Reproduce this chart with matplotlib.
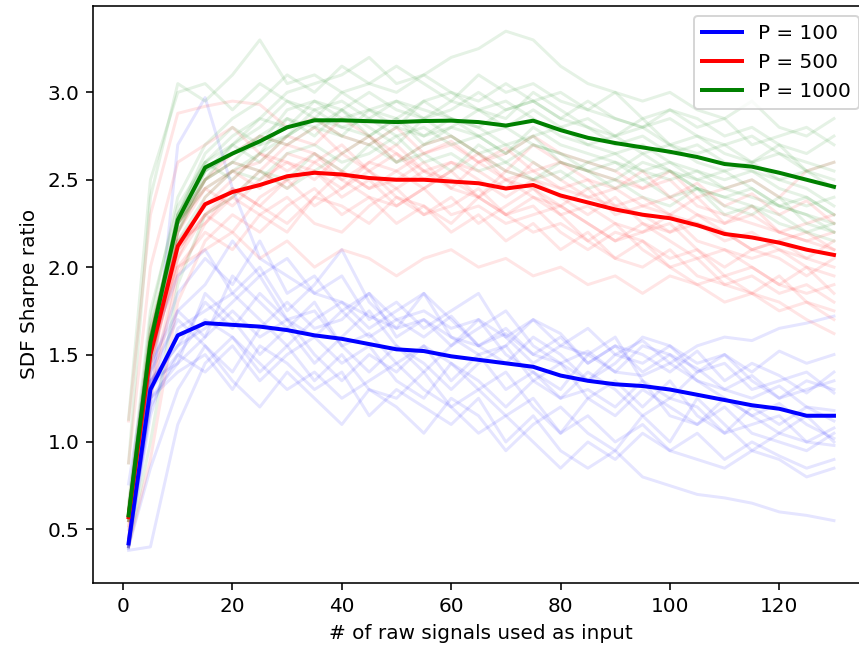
import numpy as np
import matplotlib
matplotlib.use("Agg")
import matplotlib.pyplot as plt

# number of raw signals used as input
n_signals = [1, 5, 10, 15, 20, 25, 30, 35, 40, 45, 50, 55, 60, 65, 70, 75,
             80, 85, 90, 95, 100, 105, 110, 115, 120, 125, 130]

# mean SDF Sharpe ratio for each P
mean_p100 = [0.42, 1.30, 1.61, 1.68, 1.67, 1.66, 1.64, 1.61, 1.59, 1.56, 1.53, 1.52, 1.49, 1.47,
             1.45, 1.43, 1.38, 1.35, 1.33, 1.32, 1.30, 1.27, 1.24, 1.21, 1.19, 1.15, 1.15]
mean_p500 = [0.57, 1.50, 2.12, 2.36, 2.43, 2.47, 2.52, 2.54, 2.53, 2.51, 2.50, 2.50, 2.49, 2.48,
             2.45, 2.47, 2.41, 2.37, 2.33, 2.30, 2.28, 2.24, 2.19, 2.17, 2.14, 2.10, 2.07]
mean_p1000 = [0.58, 1.57, 2.27, 2.57, 2.65, 2.72, 2.80, 2.84, 2.84, 2.835, 2.83, 2.836, 2.838, 2.83,
              2.81, 2.838, 2.784, 2.74, 2.71, 2.685, 2.66, 2.63, 2.59, 2.575, 2.54, 2.50, 2.46]

# individual runs (faint lines)
runs_p100 = [
    [0.40, 1.20, 2.70, 2.97, 2.45, 2.05, 1.95, 1.85, 1.80, 1.72, 1.65, 1.70, 1.60, 1.55, 1.62, 1.50, 1.45, 1.52, 1.40, 1.38, 1.45, 1.35, 1.30, 1.25, 1.32, 1.20, 1.18],
    [0.45, 1.45, 1.75, 1.90, 2.15, 1.95, 2.05, 1.85, 1.95, 1.70, 1.80, 1.65, 1.75, 1.85, 1.60, 1.70, 1.55, 1.65, 1.50, 1.58, 1.45, 1.55, 1.60, 1.58, 1.65, 1.68, 1.72],
    [0.38, 0.40, 1.10, 1.45, 1.60, 1.40, 1.55, 1.35, 1.50, 1.30, 1.25, 1.40, 1.20, 1.30, 1.15, 1.25, 1.05, 1.15, 1.00, 1.10, 0.95, 1.05, 0.90, 1.00, 0.92, 0.85, 0.90],
    [0.42, 1.35, 1.55, 1.80, 1.65, 1.85, 1.70, 1.75, 1.55, 1.62, 1.45, 1.55, 1.35, 1.50, 1.30, 1.40, 1.25, 1.30, 1.20, 1.35, 1.15, 1.10, 1.20, 1.05, 1.00, 0.95, 1.05],
    [0.40, 1.25, 1.40, 1.50, 1.30, 1.55, 1.45, 1.30, 1.40, 1.15, 1.30, 1.20, 1.10, 1.25, 1.00, 1.15, 0.95, 0.85, 0.95, 0.80, 0.75, 0.70, 0.68, 0.65, 0.60, 0.58, 0.55],
    [0.41, 1.40, 1.85, 2.05, 1.90, 2.15, 1.85, 1.95, 1.75, 1.85, 1.70, 1.60, 1.72, 1.55, 1.65, 1.50, 1.60, 1.45, 1.55, 1.40, 1.50, 1.42, 1.30, 1.38, 1.25, 1.30, 1.35],
    [0.43, 1.30, 1.50, 1.40, 1.55, 1.35, 1.50, 1.60, 1.45, 1.55, 1.35, 1.25, 1.45, 1.30, 1.40, 1.20, 1.05, 1.25, 1.15, 1.30, 1.20, 1.10, 1.25, 1.15, 1.05, 1.00, 0.98],
    [0.39, 1.15, 1.65, 1.75, 1.85, 1.70, 1.55, 1.70, 1.80, 1.65, 1.75, 1.85, 1.60, 1.50, 1.55, 1.70, 1.62, 1.45, 1.55, 1.50, 1.40, 1.52, 1.35, 1.45, 1.38, 1.28, 1.40],
    [0.44, 1.35, 1.45, 1.60, 1.75, 1.60, 1.70, 1.50, 1.35, 1.50, 1.40, 1.55, 1.45, 1.35, 1.20, 1.35, 1.25, 1.40, 1.30, 1.15, 1.25, 1.20, 1.05, 1.10, 1.15, 1.00, 1.08],
    [0.40, 1.40, 1.70, 1.55, 1.40, 1.65, 1.80, 1.65, 1.70, 1.85, 1.60, 1.70, 1.55, 1.65, 1.75, 1.55, 1.45, 1.35, 1.50, 1.45, 1.55, 1.40, 1.45, 1.30, 1.35, 1.40, 1.28],
    [0.42, 1.20, 1.50, 1.70, 1.60, 1.45, 1.30, 1.40, 1.25, 1.35, 1.45, 1.30, 1.20, 1.05, 1.15, 1.00, 0.85, 1.00, 0.90, 1.05, 0.95, 0.90, 0.85, 0.95, 0.90, 0.80, 0.85],
    [0.40, 1.35, 1.55, 1.65, 1.80, 1.95, 1.70, 1.60, 1.75, 1.60, 1.70, 1.75, 1.65, 1.70, 1.60, 1.45, 1.55, 1.50, 1.40, 1.55, 1.50, 1.35, 1.25, 1.15, 1.22, 1.10, 1.02],
    [0.76, 1.55, 1.95, 2.10, 1.85, 2.00, 1.75, 1.90, 2.10, 1.80, 1.65, 1.85, 1.70, 1.55, 1.45, 1.60, 1.50, 1.35, 1.45, 1.60, 1.55, 1.45, 1.50, 1.40, 1.52, 1.45, 1.50],
    [0.40, 0.85, 1.30, 1.55, 1.35, 1.20, 1.40, 1.25, 1.10, 1.30, 1.20, 1.05, 1.25, 1.15, 0.95, 1.10, 1.20, 1.05, 0.95, 1.15, 1.00, 1.25, 1.10, 0.95, 1.05, 1.15, 1.00],
    [0.42, 1.30, 1.75, 1.60, 1.95, 1.80, 1.65, 1.45, 1.60, 1.75, 1.55, 1.40, 1.55, 1.70, 1.50, 1.40, 1.30, 1.50, 1.60, 1.35, 1.25, 1.40, 1.50, 1.35, 1.25, 1.35, 1.30],
    [0.41, 1.25, 1.45, 1.85, 1.70, 1.50, 1.65, 1.80, 1.55, 1.40, 1.55, 1.45, 1.30, 1.45, 1.55, 1.35, 1.45, 1.25, 1.35, 1.20, 1.35, 1.15, 1.05, 1.20, 1.10, 1.20, 1.12],
]
runs_p500 = [
    [1.12, 2.30, 2.88, 2.92, 2.95, 2.93, 2.80, 2.85, 2.75, 2.70, 2.80, 2.65, 2.72, 2.60, 2.68, 2.55, 2.60, 2.50, 2.45, 2.55, 2.40, 2.48, 2.35, 2.42, 2.30, 2.38, 2.25],
    [0.40, 0.90, 1.80, 2.15, 2.30, 2.20, 2.35, 2.45, 2.30, 2.40, 2.25, 2.35, 2.20, 2.30, 2.15, 2.25, 2.10, 2.20, 2.05, 2.00, 2.10, 1.95, 1.90, 1.85, 1.95, 1.80, 1.75],
    [0.55, 1.45, 2.05, 2.40, 2.55, 2.45, 2.65, 2.60, 2.70, 2.55, 2.65, 2.50, 2.60, 2.55, 2.45, 2.60, 2.50, 2.40, 2.45, 2.35, 2.30, 2.40, 2.25, 2.30, 2.20, 2.15, 2.10],
    [0.45, 1.30, 2.00, 2.20, 2.10, 2.30, 2.20, 2.40, 2.35, 2.25, 2.40, 2.30, 2.35, 2.45, 2.30, 2.20, 2.25, 2.15, 2.05, 2.15, 2.00, 1.90, 1.95, 1.85, 1.80, 1.70, 1.62],
    [0.60, 1.60, 2.25, 2.50, 2.65, 2.75, 2.70, 2.80, 2.65, 2.75, 2.60, 2.70, 2.75, 2.65, 2.55, 2.70, 2.60, 2.55, 2.50, 2.45, 2.55, 2.40, 2.45, 2.50, 2.40, 2.55, 2.60],
    [0.50, 1.40, 2.10, 2.30, 2.20, 2.40, 2.50, 2.35, 2.45, 2.55, 2.40, 2.35, 2.25, 2.40, 2.30, 2.35, 2.20, 2.10, 2.20, 2.15, 2.05, 2.10, 1.95, 2.00, 1.90, 1.85, 1.90],
    [0.58, 1.55, 2.15, 2.25, 2.45, 2.35, 2.25, 2.40, 2.55, 2.45, 2.50, 2.60, 2.45, 2.40, 2.50, 2.40, 2.30, 2.35, 2.25, 2.20, 2.30, 2.15, 2.10, 2.05, 2.10, 2.00, 1.95],
    [0.62, 1.65, 2.20, 2.45, 2.35, 2.50, 2.60, 2.55, 2.45, 2.60, 2.55, 2.45, 2.55, 2.65, 2.50, 2.55, 2.45, 2.50, 2.35, 2.40, 2.30, 2.25, 2.20, 2.10, 2.15, 2.05, 2.00],
    [0.52, 1.50, 2.00, 2.10, 2.20, 2.05, 2.15, 2.00, 2.10, 2.05, 1.95, 2.05, 2.10, 2.00, 2.05, 1.95, 2.00, 1.90, 1.95, 1.85, 1.95, 1.90, 1.80, 1.85, 1.75, 1.80, 1.70],
    [0.57, 1.55, 2.20, 2.50, 2.60, 2.55, 2.70, 2.65, 2.55, 2.45, 2.55, 2.65, 2.70, 2.60, 2.65, 2.75, 2.65, 2.60, 2.55, 2.45, 2.50, 2.35, 2.30, 2.25, 2.20, 2.15, 2.20],
    [0.55, 1.45, 2.05, 2.30, 2.40, 2.55, 2.45, 2.60, 2.50, 2.40, 2.35, 2.45, 2.30, 2.35, 2.25, 2.30, 2.35, 2.25, 2.15, 2.20, 2.25, 2.10, 2.00, 2.10, 2.05, 1.95, 2.05],
    [0.58, 1.60, 2.25, 2.45, 2.55, 2.60, 2.75, 2.70, 2.85, 2.75, 2.65, 2.55, 2.60, 2.50, 2.40, 2.50, 2.45, 2.40, 2.35, 2.30, 2.20, 2.25, 2.15, 2.20, 2.10, 2.05, 2.15],
    [0.88, 2.00, 2.60, 2.70, 2.80, 2.65, 2.55, 2.65, 2.50, 2.60, 2.70, 2.55, 2.45, 2.60, 2.50, 2.45, 2.35, 2.45, 2.30, 2.35, 2.40, 2.30, 2.25, 2.35, 2.20, 2.25, 2.30],
    [0.45, 1.25, 1.95, 2.25, 2.40, 2.30, 2.40, 2.25, 2.20, 2.35, 2.45, 2.30, 2.40, 2.25, 2.35, 2.45, 2.30, 2.15, 2.25, 2.10, 2.00, 2.05, 1.90, 1.95, 1.85, 1.90, 1.80],
    [0.55, 1.50, 2.15, 2.35, 2.50, 2.65, 2.60, 2.50, 2.65, 2.55, 2.45, 2.55, 2.50, 2.40, 2.55, 2.50, 2.40, 2.30, 2.40, 2.25, 2.20, 2.30, 2.20, 2.10, 2.15, 2.20, 2.10],
    [0.60, 1.55, 2.10, 2.30, 2.45, 2.35, 2.50, 2.55, 2.40, 2.50, 2.35, 2.45, 2.55, 2.40, 2.30, 2.40, 2.35, 2.25, 2.15, 2.25, 2.15, 2.05, 2.10, 2.00, 1.90, 2.00, 1.85],
]
runs_p1000 = [
    [0.88, 2.40, 3.05, 2.95, 3.10, 3.30, 3.05, 3.10, 3.00, 3.05, 3.15, 3.05, 2.95, 3.10, 3.00, 3.05, 2.95, 2.90, 3.00, 2.85, 2.90, 2.80, 2.85, 2.70, 2.75, 2.80, 2.70],
    [0.40, 1.00, 1.90, 2.30, 2.40, 2.55, 2.50, 2.65, 2.55, 2.70, 2.60, 2.65, 2.55, 2.70, 2.60, 2.50, 2.55, 2.45, 2.50, 2.40, 2.35, 2.45, 2.30, 2.35, 2.25, 2.20, 2.15],
    [0.60, 1.60, 2.30, 2.65, 2.80, 2.70, 2.90, 2.95, 2.85, 2.90, 2.80, 2.95, 3.00, 2.90, 2.85, 3.00, 2.90, 2.80, 2.75, 2.85, 2.70, 2.75, 2.65, 2.60, 2.70, 2.55, 2.50],
    [0.55, 1.50, 2.20, 2.50, 2.60, 2.75, 2.70, 2.80, 2.90, 2.75, 2.85, 2.70, 2.80, 2.75, 2.65, 2.75, 2.60, 2.55, 2.60, 2.50, 2.55, 2.45, 2.40, 2.45, 2.35, 2.30, 2.25],
    [0.62, 1.70, 2.40, 2.70, 2.85, 2.95, 3.10, 3.00, 3.15, 3.05, 3.00, 3.10, 3.20, 3.25, 3.35, 3.30, 3.15, 3.05, 3.00, 2.95, 3.00, 2.90, 2.85, 2.95, 2.80, 2.75, 2.85],
    [0.57, 1.55, 2.25, 2.45, 2.55, 2.50, 2.65, 2.70, 2.60, 2.65, 2.75, 2.60, 2.65, 2.55, 2.60, 2.70, 2.65, 2.55, 2.45, 2.50, 2.40, 2.45, 2.35, 2.30, 2.40, 2.25, 2.20],
    [0.58, 1.60, 2.30, 2.55, 2.70, 2.80, 2.95, 2.90, 2.80, 2.85, 2.95, 2.90, 2.85, 2.80, 2.90, 2.95, 2.85, 2.80, 2.70, 2.75, 2.65, 2.70, 2.60, 2.55, 2.50, 2.55, 2.45],
    [0.65, 1.75, 2.35, 2.60, 2.50, 2.65, 2.85, 2.75, 2.90, 2.80, 2.70, 2.85, 2.75, 2.65, 2.70, 2.60, 2.50, 2.60, 2.65, 2.55, 2.60, 2.50, 2.55, 2.45, 2.35, 2.40, 2.30],
    [0.55, 1.50, 2.15, 2.40, 2.55, 2.65, 2.75, 2.90, 2.95, 2.85, 2.75, 2.80, 2.70, 2.75, 2.65, 2.80, 2.70, 2.65, 2.60, 2.55, 2.50, 2.55, 2.45, 2.50, 2.40, 2.35, 2.40],
    [0.60, 1.65, 2.25, 2.55, 2.65, 2.70, 2.75, 2.85, 2.75, 2.70, 2.80, 2.75, 2.85, 2.80, 2.70, 2.75, 2.80, 2.70, 2.75, 2.65, 2.70, 2.60, 2.55, 2.60, 2.50, 2.45, 2.35],
    [0.56, 1.55, 2.30, 2.60, 2.75, 2.85, 3.00, 3.05, 3.10, 3.20, 3.05, 3.10, 3.00, 2.95, 3.05, 2.95, 2.85, 2.95, 2.85, 2.80, 2.90, 2.85, 2.75, 2.80, 2.70, 2.65, 2.75],
    [0.59, 1.60, 2.25, 2.50, 2.60, 2.55, 2.45, 2.55, 2.65, 2.75, 2.60, 2.70, 2.75, 2.65, 2.55, 2.50, 2.60, 2.55, 2.50, 2.60, 2.55, 2.45, 2.40, 2.35, 2.30, 2.20, 2.25],
    [1.13, 2.50, 3.00, 3.05, 2.90, 3.05, 2.95, 2.85, 3.00, 2.90, 2.95, 2.85, 2.95, 2.90, 2.80, 2.90, 2.80, 2.85, 2.75, 2.80, 2.70, 2.65, 2.70, 2.60, 2.65, 2.55, 2.60],
    [0.55, 1.45, 2.20, 2.55, 2.65, 2.75, 2.85, 2.80, 2.75, 2.90, 2.85, 2.75, 2.80, 2.90, 2.95, 2.85, 2.75, 2.70, 2.65, 2.70, 2.60, 2.55, 2.50, 2.55, 2.45, 2.40, 2.30],
    [0.58, 1.55, 2.25, 2.50, 2.70, 2.60, 2.75, 2.85, 2.80, 2.75, 2.85, 2.95, 2.85, 2.75, 2.80, 2.70, 2.65, 2.60, 2.55, 2.65, 2.55, 2.50, 2.45, 2.40, 2.35, 2.30, 2.20],
    [0.60, 1.60, 2.30, 2.60, 2.70, 2.85, 2.80, 2.95, 2.90, 3.00, 2.90, 2.85, 2.90, 3.00, 2.90, 2.95, 3.00, 2.90, 2.85, 2.80, 2.85, 2.75, 2.70, 2.75, 2.65, 2.60, 2.55],
]

labels = ["P = 100", "P = 500", "P = 1000"]
colors = ["b", "r", "g"]

fig = plt.figure(figsize=(859/144, 652/144), dpi=144)
ax = fig.add_axes([0.1086, 0.1063, 0.9033, 0.8845])

for runs, c in zip([runs_p100, runs_p500, runs_p1000], colors):
    for r in runs:
        ax.plot(n_signals, r, color=c, alpha=0.1, lw=1.5)

for m, c, lab in zip([mean_p100, mean_p500, mean_p1000], colors, labels):
    ax.plot(n_signals, m, color=c, lw=2, label=lab)

ax.set_xlim(-5.45, 136.45)
ax.set_ylim(0.195, 3.494)
ax.set_xticks(np.arange(0, 121, 20))
ax.set_yticks([0.5, 1.0, 1.5, 2.0, 2.5, 3.0])
ax.set_xlabel("# of raw signals used as input")
ax.set_ylabel("SDF Sharpe ratio")
ax.legend(loc="upper right")

fig.savefig("out.png", dpi=144)
